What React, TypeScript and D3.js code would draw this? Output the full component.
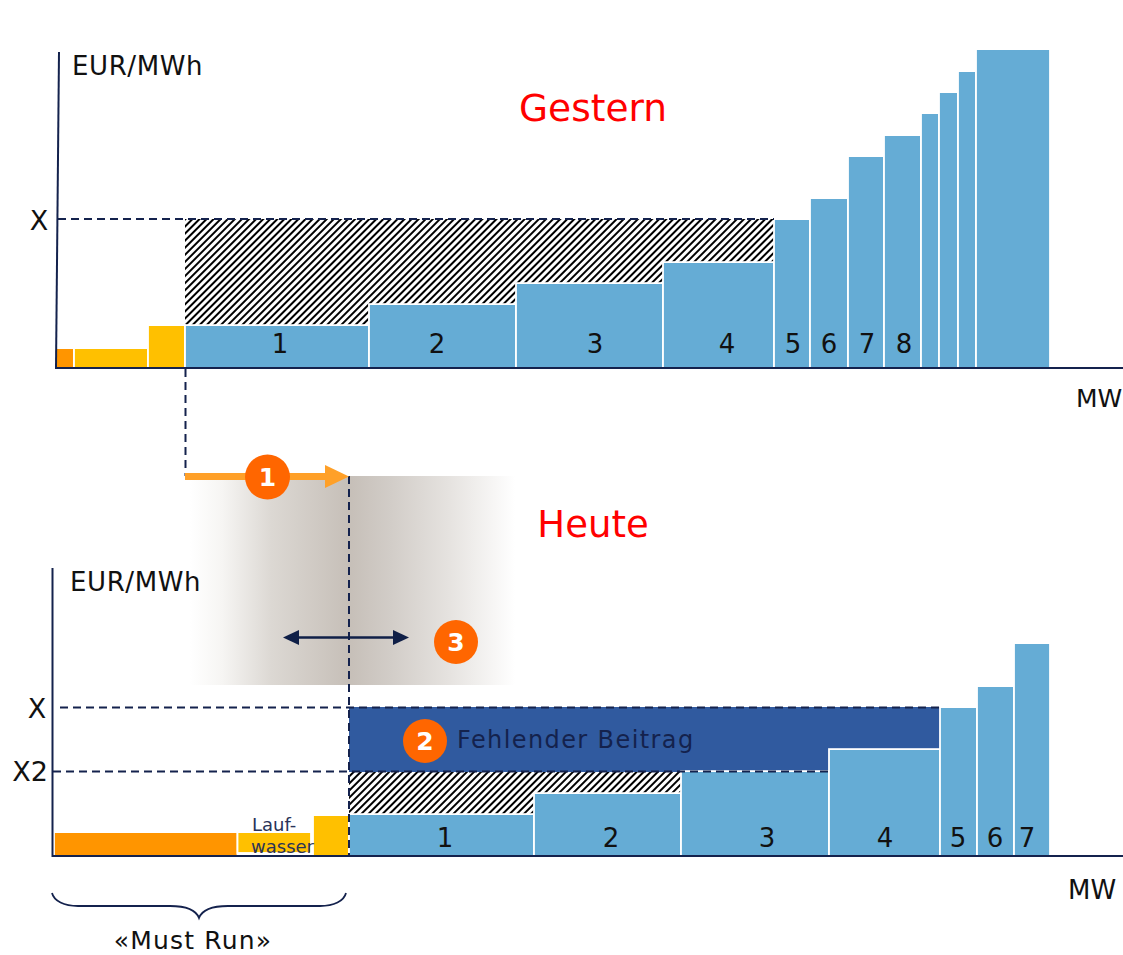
import React from "react";
import * as d3 from "d3";

const WIDTH = 1123;
const HEIGHT = 955;
const NAVY = "#14224d";
const INK = "#111111";
const BLUE = "#65acd5";
const ORANGE = "#ff9500";
const YELLOW = "#ffc000";
const FONT = "'DejaVu Sans', Verdana, sans-serif";

// Merit order of yesterday: block capacity (MW scale) and marginal price.
const gesternWidths = [19, 74, 37, 184, 147, 147, 111, 36, 38, 36, 37, 18, 19, 18, 74];
const gesternPrices = [19, 19, 42, 42, 63, 84, 105, 148, 169, 211, 232, 254, 275, 296, 318];
const gesternColors = [ORANGE, YELLOW, YELLOW, ...Array(12).fill(BLUE)];
const gesternLabels = ["", "", "", "1", "2", "3", "4", "5", "6", "7", "8", "", "", "", ""];
const gesternLabelX = [0, 0, 0, 225, 382, 540, 672, 738, 774, 812, 849, 0, 0, 0, 0];

// Merit order of today: the must-run block is much wider.
const heuteWidths = [183.5, 75.5, 36, 185, 147, 148, 111, 37, 37, 36];
const heutePrices = [23, 23, 40, 41, 62, 84, 106, 148, 169, 212];
const heuteColors = [ORANGE, YELLOW, YELLOW, ...Array(7).fill(BLUE)];
const heuteLabels = ["", "", "", "1", "2", "3", "4", "5", "6", "7"];
const heuteLabelX = [0, 0, 0, 391, 557, 713, 831, 904, 941, 973];

const priceXGestern = 149;
const priceXHeute = 149;
const priceX2Heute = 84;

const bandStops = [
  { at: 0, color: "#ffffff" },
  { at: 0.1, color: "#f6f5f3" },
  { at: 0.25, color: "#dcd8d3" },
  { at: 0.49, color: "#c6bfb8" },
  { at: 0.62, color: "#d2cdc8" },
  { at: 0.8, color: "#e6e3e0" },
  { at: 1, color: "#ffffff" },
];

function stack(widths: number[]) {
  let sum = 0;
  return widths.map((w) => {
    const start = sum;
    sum += w;
    return { start, end: sum };
  });
}

type PanelProps = {
  x0: number;
  baseline: number;
  widths: number[];
  prices: number[];
  colors: string[];
  labels: string[];
  labelX: number[];
  labelLift: number;
  hatchTop: number;
  hatchBars: number[];
  laufwasserIndex?: number;
  highlight?: { from: number; to: number; top: number; bottom: number };
};

// Half the white outline sits inside each block, so the block starts that much higher.
const OUTLINE = 1.8;

function Panel(p: PanelProps) {
  const x = d3.scaleLinear().domain([0, WIDTH - p.x0]).range([p.x0, WIDTH]);
  const y = d3.scaleLinear().domain([0, 320]).range([p.baseline, p.baseline - 320]);
  const spans = stack(p.widths);
  return (
    <g>
      {/* The hatched gap reaches from each block's price up to the reference price */}
      {p.hatchBars.map((i) => (
        <rect
          key={i}
          x={x(spans[i].start)}
          y={y(p.hatchTop)}
          width={x(spans[i].end) - x(spans[i].start)}
          height={Math.max(0, y(p.prices[i]) - y(p.hatchTop))}
          fill="url(#hatch)"
        />
      ))}
      {p.highlight && (
        <rect
          x={x(p.highlight.from)}
          y={y(p.highlight.top)}
          width={x(p.highlight.to) - x(p.highlight.from)}
          height={y(p.highlight.bottom) - y(p.highlight.top)}
          fill="#305a9f"
        />
      )}
      {spans.map((s, i) => {
        const isLauf = p.laufwasserIndex === i;
        return (
          <rect
            key={i}
            x={x(s.start)}
            y={y(p.prices[i]) - OUTLINE / 2}
            width={x(s.end) - x(s.start) - (isLauf ? 2 : 0)}
            height={y(0) - y(p.prices[i]) + OUTLINE / 2 - (isLauf ? 3 : 0)}
            fill={p.colors[i]}
            stroke="#ffffff"
            strokeWidth={OUTLINE}
          />
        );
      })}
      {p.labels.map((t, i) =>
        t ? (
          <text key={i} x={x(p.labelX[i])} y={p.baseline - p.labelLift} textAnchor="middle" fontSize={26} fill={INK}>
            {t}
          </text>
        ) : null
      )}
    </g>
  );
}

function Badge({ cx, cy, r, label }: { cx: number; cy: number; r: number; label: string }) {
  return (
    <g>
      <circle cx={cx} cy={cy} r={r} fill="#ff6600" />
      <text x={cx} y={cy + 9} textAnchor="middle" fontSize={25} fontWeight={700} fill="#ffffff">
        {label}
      </text>
    </g>
  );
}

export default function App() {
  const dash = "8 5";
  const topBase = 368;
  const botBase = 856;
  return (
    <svg
      width={WIDTH}
      height={HEIGHT}
      viewBox={`0 0 ${WIDTH} ${HEIGHT}`}
      style={{ position: "absolute", left: 0, top: 0, background: "#fff" }}
      fontFamily={FONT}
    >
      <defs>
        <pattern id="hatch" width="5" height="5" patternUnits="userSpaceOnUse" patternTransform="rotate(45)">
          <rect width="5" height="5" fill="#ffffff" />
          <rect width="2" height="5" fill="#000000" />
        </pattern>
        <linearGradient id="band" x1="0" x2="1" y1="0" y2="0">
          {bandStops.map((s) => (
            <stop key={s.at} offset={s.at} stopColor={s.color} />
          ))}
        </linearGradient>
      </defs>

      {/* Shifted marginal-plant band behind the two panels */}
      <rect x={190} y={476} width={325} height={209} fill="url(#band)" />

      {/* Yesterday */}
      <Panel
        x0={55}
        baseline={topBase}
        widths={gesternWidths}
        prices={gesternPrices}
        colors={gesternColors}
        labels={gesternLabels}
        labelX={gesternLabelX}
        labelLift={15}
        hatchTop={priceXGestern}
        hatchBars={[3, 4, 5, 6]}
      />
      <line x1={59} x2={56} y1={52} y2={368} stroke={NAVY} strokeWidth={2} />
      <line x1={55} x2={WIDTH} y1={topBase} y2={topBase} stroke={NAVY} strokeWidth={2} />
      <line x1={58} x2={774} y1={219} y2={219} stroke={NAVY} strokeWidth={2} strokeDasharray={dash} />
      <line x1={185.5} x2={185.5} y1={369} y2={476} stroke={NAVY} strokeWidth={2} strokeDasharray={dash} />

      <text x={72} y={75} fontSize={26} letterSpacing={0.6} fill={INK}>EUR/MWh</text>
      <text x={593} y={121} textAnchor="middle" fontSize={37.5} fill="#ff0000">Gestern</text>
      <text x={39} y={230} textAnchor="middle" fontSize={27} fill={INK}>X</text>
      <text x={1076} y={407} fontSize={25} fill={INK}>MW</text>

      {/* Today */}
      <Panel
        x0={54}
        baseline={botBase}
        widths={heuteWidths}
        prices={heutePrices}
        colors={heuteColors}
        labels={heuteLabels}
        labelX={heuteLabelX}
        labelLift={9}
        hatchTop={priceX2Heute}
        hatchBars={[3, 4, 5]}
        laufwasserIndex={1}
        highlight={{ from: 295, to: 886, top: priceXHeute, bottom: priceX2Heute }}
      />
      <line x1={52.5} x2={52.5} y1={568} y2={857} stroke={NAVY} strokeWidth={2} />
      <line x1={52} x2={WIDTH} y1={botBase} y2={botBase} stroke={NAVY} strokeWidth={2} />
      <line x1={60} x2={940} y1={707.5} y2={707.5} stroke={NAVY} strokeWidth={2} strokeDasharray={dash} />
      <line x1={53} x2={829} y1={771.5} y2={771.5} stroke={NAVY} strokeWidth={2} strokeDasharray={dash} />
      <line x1={349} x2={349} y1={476} y2={856} stroke={NAVY} strokeWidth={2} strokeDasharray={dash} />

      <text x={70} y={591} fontSize={26} letterSpacing={0.6} fill={INK}>EUR/MWh</text>
      <text x={593} y={537} textAnchor="middle" fontSize={37} fill="#ff0000">Heute</text>
      <text x={37} y={718} textAnchor="middle" fontSize={27} fill={INK}>X</text>
      <text x={30} y={781} textAnchor="middle" fontSize={27} fill={INK}>X2</text>
      <text x={1068} y={899} fontSize={26} fill={INK}>MW</text>
      <text x={252} y={831} fontSize={18} fill="#2a3358">Lauf-</text>
      <text x={251} y={853} fontSize={18} fill="#2a3358">wasser</text>
      <text x={457} y={748} fontSize={24} fill="#14224d" letterSpacing={1.4}>Fehlender Beitrag</text>

      {/* Shift arrow */}
      <line x1={185} x2={327} y1={476.5} y2={476.5} stroke="#ffa028" strokeWidth={7} />
      <path d={d3.line()([[325, 465], [349, 476.5], [325, 488]]) + "Z"} fill="#ffa028" />

      {/* Price-range arrow */}
      <line x1={296} x2={396} y1={637.5} y2={637.5} stroke="#0f1f47" strokeWidth={2.5} />
      <path d={d3.line()([[283, 637.5], [299, 630], [299, 645]]) + "Z"} fill="#0f1f47" />
      <path d={d3.line()([[409, 637.5], [393, 630], [393, 645]]) + "Z"} fill="#0f1f47" />

      <Badge cx={267.5} cy={477} r={22.5} label="1" />
      <Badge cx={425} cy={741} r={22} label="2" />
      <Badge cx={456} cy={642} r={22} label="3" />

      {/* Must-run brace */}
      <path
        d="M52,893 C54,901 64,906 78,906 L170,906 C186,906 196,910 199,918 C202,910 212,906 228,906 L320,906 C334,906 344,901 346,893"
        fill="none"
        stroke={NAVY}
        strokeWidth={1.8}
      />
      <text x={193} y={949} textAnchor="middle" fontSize={25} letterSpacing={1.2} fill={INK}>«Must Run»</text>
    </svg>
  );
}
